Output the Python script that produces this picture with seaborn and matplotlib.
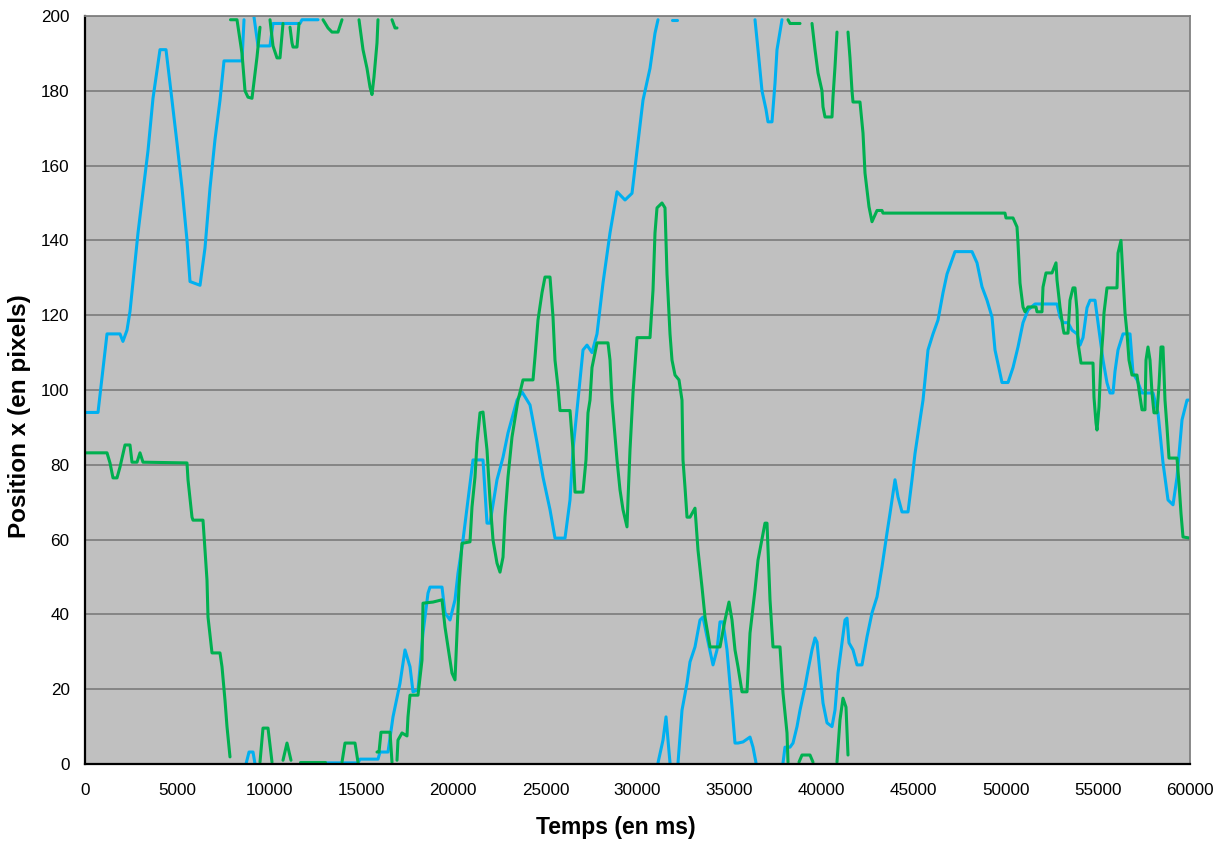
import seaborn as sns
import numpy as np
import matplotlib
matplotlib.use("Agg")
import matplotlib.pyplot as plt
import pandas as pd

# temps (ms) / position x (pixels) ; None = trace sortie du cadre (coupure)
blue_t = [0, 706, 1195, 1900, 2060, 2280, 2443, 2878, 3149, 3421, 3692, 4072, 4398, 4616, 4996,
          5267, 5539, 5702, 6245, 6516, 6788, 7059, 7331, 7548, 8525, 8634, None,
          8743, 8906, 9123, 9232, None,
          9177, 9394, 10046, 10208, 11674, 11783, 12652, None,
          13032, 14824, 14932, 15910, 16018, 16453, 16724, 17104, 17376, 17647, 17810, 18082,
          18353, 18625, 18733, 19385, 19548, 19819, 20091, 20253, 20525, 20796, 21068, 21611,
          21828, 21991, 22371, 22697, 22968, 23457, 23729, 24163, 24543, 24869, 25249, 25521,
          26064, 26335, 26498, 26769, 27041, 27258, 27530, 27801, 28127, 28507, 28887, 29322,
          29702, 29973, 30299, 30679, 30950, 31113, None,
          31113, 31385, 31548, 31656, 31765, None,
          31874, 32145, None,
          32200, 32417, 32688, 32851, 33122, 33394, 33557, 33774, 34100, 34317, 34480, 34643,
          34860, 35131, 35294, 35457, 35729, 36109, 36272, 36435, None,
          36380, 36543, 36760, 36978, 37086, 37303, 37466, 37575, 37846, None,
          37901, 38009, 38281, 38444, 38661, 38824, 39095, 39258, 39475, 39638, 39747, 39910,
          40073, 40290, 40561, 40724, 40887, 41104, 41267, 41376, 41484, 41702, 41919, 42190,
          42462, 42733, 43005, 43276, 43548, 43711, 43982, 44145, 44362, 44688, 44905, 45068,
          45340, 45503, 45774, 46046, 46317, 46589, 46806, 47240, 48163, 48435, 48706, 48978,
          49249, 49412, 49575, 49792, 50118, 50390, 50661, 50933, 51204, 51584, 52779, 52942,
          53105, 53376, 53593, 53865, 54028, 54190, 54408, 54571, 54842, 55005, 55277, 55494,
          55657, 55820, 55928, 56091, 56363, 56743, 56906, 57123, 57394, 57992, 58263, 58535,
          58806, 59078, 59295, 59566, 59838, 60000]
blue_pos = [94, 94, 115, 115, 113, 116, 121, 142, 153, 164, 178, 191, 191, 182, 166,
            154, 140, 129, 128, 138, 154, 167, 177.5, 188, 188, 199, None,
            0, 3.2, 3.2, 0, None,
            199.7, 192, 192, 198, 198, 199, 199, None,
            0.3, 0.3, 1.3, 1.3, 3.2, 3.2, 12.6, 21.6, 30.5, 26, 19.3, 19.8,
            35, 45.7, 47.3, 47.3, 40.4, 38.5, 43.9, 51, 59.9, 70.6, 81.3, 81.3,
            64.4, 64.4, 76, 82, 88.5, 97.3, 99.5, 96, 86, 76.7, 68, 60.4,
            60.4, 70.6, 84, 97.3, 110.7, 112, 110, 115, 128.6, 142, 153, 150.8,
            152.6, 164, 177.5, 186, 195.4, 199, None,
            0.3, 6.4, 12.6, 6.4, 0.3, None,
            199, 199, None,
            0.3, 14.4, 21.6, 27.3, 31.3, 38.5, 39.3, 34, 26.5, 30.5, 38, 38,
            30.5, 15.2, 5.6, 5.6, 5.9, 7.2, 4.5, 0.3, None,
            199, 191, 180, 175, 171.7, 171.7, 182, 191, 199, None,
            0.3, 4.5, 4.5, 5.6, 10, 14.4, 20.6, 25, 30.5, 33.7, 32.6, 24.3,
            16.3, 11, 10, 14.4, 24.3, 32.4, 38.5, 39, 32.4, 30.5, 26.5, 26.5,
            34, 40.4, 44.7, 52.7, 61.8, 67, 76, 71.4, 67.4, 67.4, 76, 83,
            92, 97.3, 110.7, 115, 118.7, 126, 131, 137, 137, 134, 127.6, 124,
            119.5, 110.7, 107, 102, 102, 106, 111.5, 118, 121.4, 123, 123, 119.5,
            118, 118, 116, 115, 112, 114, 122, 124, 124, 118, 108, 101.9,
            99.2, 99.2, 105, 110.7, 115, 115, 104.5, 102.7, 99.2, 99.2, 93.9, 80.5,
            70.6, 69.3, 76.7, 92, 97.3, 97.3]

green_t = [0, 1195, 1357, 1520, 1738, 1900, 2172, 2443, 2552, 2824, 2986, 3149, 5538, 5593,
           5810, 5864, 6407, 6516, 6624, 6679, 6896, 7330, 7439, 7602, 7710, 7873, None,
           7900, 8253, 8525, 8688, 8851, 9068, 9339, 9502, None,
           9502, 9665, 9937, 10154, None,
           10045, 10208, 10425, 10588, 10751, None,
           10751, 10968, 11185, None,
           11131, 11240, 11294, 11511, 11620, None,
           11674, 13032, None,
           12923, 13195, 13412, 13738, 13955, None,
           13955, 14118, 14661, 14823, None,
           14878, 15095, 15312, 15475, 15583, 15692, 15855, 15909, None,
           15855, 15964, 16072, 16561, 16670, None,
           16670, 16833, 16941, None,
           16941, 16995, 17213, 17484, 17538, 17647, 18081, 18299, 18353, 18896, 19385, 19548,
           19710, 19927, 20090, 20199, 20307, 20470, 20905, 21013, 21176, 21285, 21448, 21611,
           21828, 21991, 22154, 22371, 22534, 22697, 22805, 22968, 23185, 23500, 23783, 24326,
           24434, 24597, 24814, 24977, 25249, 25412, 25520, 25683, 25792, 26335, 26498, 26606,
           27040, 27203, 27312, 27421, 27529, 27801, 28398, 28507, 28615, 28887, 29050, 29213,
           29430, 29484, 29593, 29756, 29973, 30679, 30842, 30950, 31059, 31330, 31493, 31602,
           31765, 31873, 32036, 32253, 32416, 32470, 32579, 32688, 32851, 33122, 33285, 33502,
           33665, 33937, 34480, 34751, 34968, 35131, 35294, 35457, 35674, 35946, 36109, 36380,
           36543, 36923, 37032, 37195, 37357, 37737, 37900, 38118, 38172, None,
           38172, 38281, 38824, None,
           38769, 38932, 39366, 39529, None,
           39475, 39638, 39801, 40018, 40072, 40181, 40561, 40615, 40724, 40832, None,
           40832, 40995, 41158, 41321, 41430, None,
           41430, 41538, 41647, 41701, 42081, 42244, 42353, 42461, 42570, 42733, 42896, 43005,
           43276, 43330, 49955, 50009, 50389, 50606, 50661, 50769, 50932, 51041, 51203, 51638,
           51692, 51964, 52018, 52181, 52507, 52724, 52778, 52941, 53104, 53158, 53376, 53484,
           53647, 53756, 53864, 53919, 54082, 54733, 54787, 54896, 54950, 55059, 55168, 55276,
           55330, 55493, 56036, 56090, 56253, 56362, 56471, 56579, 56688, 56850, 57122, 57231,
           57394, 57556, 57611, 57719, 57828, 57937, 58045, 58208, 58317, 58425, 58534, 58642,
           58751, 58860, 59294, 59403, 59511, 59620, 60000]
green_pos = [83.2, 83.2, 80.5, 76.5, 76.5, 79.4, 85.3, 85.3, 80.7, 80.7, 83.2, 80.7, 80.5, 76,
             66, 65.2, 65.2, 57.2, 49.2, 39.3, 29.7, 29.7, 26, 17, 10, 1.9, None,
             199, 199, 190, 180, 178.3, 178, 189, 197, None,
             0.5, 9.6, 9.6, 0.5, None,
             199, 192, 188.8, 188.8, 198, None,
             1, 5.6, 1, None,
             197, 192.8, 191.7, 191.7, 198, None,
             0.5, 0.5, None,
             199, 196.8, 195.7, 195.7, 199, None,
             0.5, 5.6, 5.6, 0.5, None,
             199, 191, 186, 181, 179, 183.7, 192.8, 199, None,
             3.2, 3.2, 8.5, 8.5, 0.5, None,
             199, 196.8, 196.8, None,
             1, 6.4, 8.3, 7.5, 12.6, 18.4, 18.4, 27.8, 43, 43.3, 43.9, 36.6,
             31.3, 24.3, 22.5, 35, 47.3, 59, 59.4, 68.7, 76.7, 85.8, 93.9, 94.1,
             84, 70.6, 59.9, 53.7, 51.3, 55.3, 66, 76.7, 87.4, 97, 102.7, 102.7,
             108.8, 118.7, 126, 130.2, 130.2, 119.5, 108, 100.8, 94.5, 94.5, 84, 72.7,
             72.7, 81.3, 93.9, 97.3, 106, 112.6, 112.6, 108, 97.3, 81.3, 73.3, 68,
             63.4, 70.6, 84, 99.2, 114, 114, 126.7, 142, 148.7, 150, 148.7, 131,
             115, 108, 104, 102.7, 97.3, 81.3, 74, 66, 66, 68.4, 57.2, 47.3,
             39.3, 31.3, 31.3, 38.5, 43.3, 38.5, 30.5, 26, 19.3, 19.3, 35, 46.5,
             54.5, 64.4, 64.4, 43.9, 31.3, 31.3, 19, 8.3, 0.5, None,
             199, 198, 198, None,
             0.5, 2.4, 2.4, 0.5, None,
             198, 191, 184.8, 180, 175.7, 173, 173, 178.3, 186.4, 195.7, None,
             0.5, 11.8, 17.6, 15.2, 2.4, None,
             195.7, 188.8, 180, 177, 177, 168.7, 158, 153.5, 149, 145, 146.8, 148,
             148, 147.3, 147.3, 146, 146, 143.6, 139.3, 128.6, 122.2, 120.9, 122.2, 122.2,
             120.9, 120.9, 127.5, 131.3, 131.3, 134, 129.4, 122.2, 116.6, 115.2, 115.2, 124,
             127.3, 127.3, 121.4, 112.6, 107.2, 107.2, 98, 91.2, 89.3, 95.5, 108, 115.2,
             120.6, 127.3, 127.3, 136.6, 140, 130.2, 120.6, 115.2, 108, 104, 104, 100,
             94.7, 94.7, 108, 111.5, 108, 99.2, 93.9, 93.9, 101.3, 111.5, 111.5, 97.3,
             90, 81.8, 81.8, 75, 67, 60.7, 60.4]

y_ticks = list(range(0, 201, 20))
x_ticks = list(range(0, 60001, 5000))


def to_frame(name, ts, ys):
    rows = []
    seg = 0
    for t, y in zip(ts, ys):
        if t is None:
            seg += 1
            continue
        rows.append({"serie": name, "seg": name + str(seg), "t": t, "pos": y})
    return pd.DataFrame(rows)


df = pd.concat([to_frame("bleu", blue_t, blue_pos),
                to_frame("vert", green_t, green_pos)], ignore_index=True)

sns.set_style("white")
plt.rcParams["font.family"] = ["Liberation Sans", "DejaVu Sans"]
plt.rcParams["text.color"] = "black"
plt.rcParams["xtick.color"] = "black"
plt.rcParams["ytick.color"] = "black"

fig = plt.figure(figsize=(12.27, 8.43), dpi=100)
ax = fig.add_axes([85 / 1227, 79 / 843, 1105 / 1227, 748 / 843])
ax.set_facecolor("#C0C0C0")

sns.lineplot(data=df, x="t", y="pos", hue="serie", units="seg", estimator=None,
             palette={"bleu": "#00B0F0", "vert": "#00B050"}, linewidth=2.2,
             legend=False, ax=ax)

ax.set_xlim(0, 60000)
ax.set_ylim(0, 200)
ax.set_xticks(x_ticks)
ax.set_yticks(y_ticks)
ax.set_axisbelow(True)
ax.yaxis.grid(True, color="#808080", linewidth=1.3)
ax.xaxis.grid(False)

for s in ["left", "bottom"]:
    ax.spines[s].set_color("black")
    ax.spines[s].set_linewidth(1.6)
for s in ["top", "right"]:
    ax.spines[s].set_color("#808080")
    ax.spines[s].set_linewidth(1.3)

ax.tick_params(axis="both", direction="out", length=5, width=1.2, color="black",
               labelsize=12.3, labelcolor="black")
ax.tick_params(axis="x", pad=9)
ax.tick_params(axis="y", pad=6)

ax.set_xlabel("Temps (en ms)", fontsize=16.5, fontweight="bold", color="black")
ax.set_ylabel("Position x (en pixels)", fontsize=17.5, fontweight="bold", color="black")
ax.xaxis.set_label_coords(0.48, -0.07)
ax.yaxis.set_label_coords(-0.049, 0.465)

plt.savefig("out.png", dpi=100)
